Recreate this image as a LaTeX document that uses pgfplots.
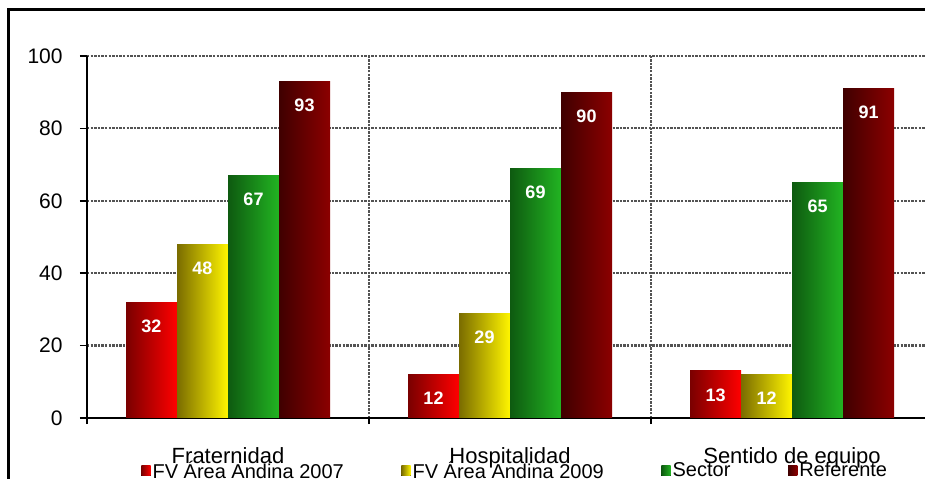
\documentclass[border=0pt]{standalone}
\usepackage{pgfplots}
\pgfplotsset{compat=1.18}
\usepackage{fontspec}
\setmainfont{Liberation Sans}

% bar gradients: dark on the left, bright on the right
\definecolor{rojoO}{HTML}{7A0000}
\definecolor{rojoC}{HTML}{FF0000}
\definecolor{amaO}{HTML}{7A6C00}
\definecolor{amaC}{HTML}{FFF500}
\definecolor{verO}{HTML}{0E5A10}
\definecolor{verC}{HTML}{22B422}
\definecolor{grO}{HTML}{3F0000}
\definecolor{grC}{HTML}{8C0000}

% one style per series; every bar is its own plot so each gets its own gradient
\pgfplotsset{
  s2007/.style={draw=none, left color=rojoO, right color=rojoC, /pgf/bar shift=-38.25bp},
  s2009/.style={draw=none, left color=amaO, right color=amaC, /pgf/bar shift=-12.75bp},
  sSector/.style={draw=none, left color=verO, right color=verC, /pgf/bar shift=12.75bp},
  sRef/.style={draw=none, left color=grO, right color=grC, /pgf/bar shift=38.25bp},
}

\begin{document}
\begin{tikzpicture}
\clip (0,0) rectangle (462.5bp,239.5bp);
\begin{axis}[
  at={(43.5bp,30.5bp)}, anchor=south west,
  scale only axis, width=419bp, height=181bp,
  xmin=-0.5, xmax=2.4716, ymin=0, ymax=100,
  ybar, bar width=25.5bp,
  axis x line*=bottom, axis y line*=left,
  axis line style={black, line width=1bp},
  xtick={0,1,2},
  xticklabels={Fraternidad,Hospitalidad,Sentido de equipo},
  minor xtick={-0.5,0.5,1.5},
  ytick={0,20,...,100},
  tick align=outside,
  major tick length=3.5bp, minor tick length=3bp,
  every major x tick/.append style={draw=none},
  tick style={black, line width=0.75bp},
  ymajorgrids, xminorgrids,
  grid style={gray!65!black, line width=1.1bp, dash pattern=on 1.2bp off 0.6bp},
  /pgf/number format/assume math mode=true,
  yticklabel style={font=\fontsize{10.5bp}{12bp}\selectfont, anchor=east, inner sep=0pt, xshift=-8.5bp},
  xticklabel style={font=\fontsize{11bp}{13bp}\selectfont, anchor=base, inner sep=0pt, yshift=-19bp},
  nodes near coords,
  every node near coord/.append style={text=white, font=\fontsize{9bp}{10bp}\selectfont\bfseries, anchor=center, yshift=-12bp},
  legend columns=4,
  legend cell align=left,
  legend image code/.code={\fill[#1] (0bp,-2.2bp) rectangle (4.6bp,2.8bp);},
  legend style={at={(0.0644,-0.147)}, anchor=west, draw=none, fill=none, inner sep=0pt,
    font=\fontsize{10bp}{12bp}\selectfont,
    nodes={inner sep=1bp},
    /tikz/every even column/.append style={column sep=27.8bp}},
]
% Fraternidad (also provides the legend entries)
\addplot[s2007] coordinates {(0,32)};
\addplot[s2009] coordinates {(0,48)};
\addplot[sSector] coordinates {(0,67)};
\addplot[sRef] coordinates {(0,93)};
% Hospitalidad
\addplot[s2007, forget plot] coordinates {(1,12)};
\addplot[s2009, forget plot] coordinates {(1,29)};
\addplot[sSector, forget plot] coordinates {(1,69)};
\addplot[sRef, forget plot] coordinates {(1,90)};
% Sentido de equipo
\addplot[s2007, forget plot] coordinates {(2,13)};
\addplot[s2009, forget plot] coordinates {(2,12)};
\addplot[sSector, forget plot] coordinates {(2,65)};
\addplot[sRef, forget plot] coordinates {(2,91)};
\legend{FV Área Andina 2007, FV Área Andina 2009, Sector, Referente}
\end{axis}
% outer chart frame
\draw[black, line width=1.5bp] (4.25bp,-5bp) |- (470bp,234.5bp);
\end{tikzpicture}
\end{document}
